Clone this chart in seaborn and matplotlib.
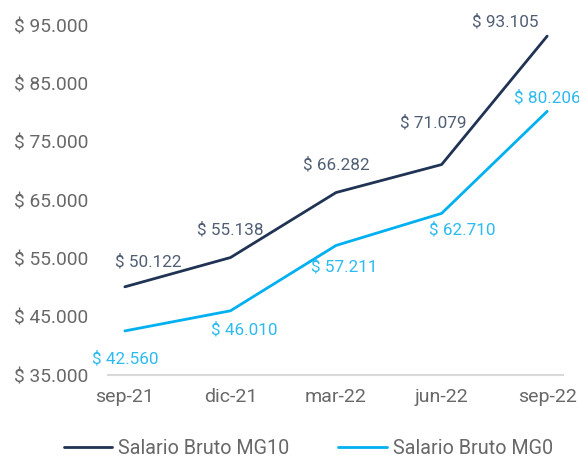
import matplotlib
matplotlib.use('Agg')
from matplotlib import pyplot as plt
from matplotlib.ticker import FuncFormatter
import pandas as pd
import seaborn as sns

# **************************************************************************

periods = ['sep-21', 'dic-21', 'mar-22', 'jun-22', 'sep-22']
mg10 = [50122, 55138, 66282, 71079, 93105]
mg0 = [42560, 46010, 57211, 62710, 80206]
series_names = ['Salario Bruto MG10', 'Salario Bruto MG0']

# label offsets in points (dx, dy)
mg10_offsets = [(17, 18), (0, 20), (0, 20), (-6, 30), (-30, 10)]
mg0_offsets = [(0, -20), (10, -14), (6, -15), (15, -12), (0, 10)]

DARK = '#203354'
LIGHT = '#00B0F0'
GREY = '#686868'


def fmt_money(v):
    return '$ ' + f'{int(round(v)):,}'.replace(',', '.')


def draw_chart():
    sns.set_theme(style='white')
    plt.rcParams['font.family'] = ['Roboto', 'DejaVu Sans']

    df = pd.DataFrame({
        'pos': list(range(len(periods))) * 2,
        'value': mg10 + mg0,
        'serie': [series_names[0]] * len(mg10) + [series_names[1]] * len(mg0),
    })

    fig = plt.figure(figsize=(5.79, 4.57), dpi=100)
    ax = fig.add_axes([0.1865, 0.1794, 0.7859, 0.7658])

    sns.lineplot(data=df, x='pos', y='value', hue='serie',
                 palette={series_names[0]: DARK, series_names[1]: LIGHT},
                 linewidth=2.0, ax=ax)

    # data labels
    for i, v in enumerate(mg10):
        ax.annotate(fmt_money(v), (i, v), xytext=mg10_offsets[i], textcoords='offset points',
                    ha='center', va='center', fontsize=12.3, color='#505E74',
                    annotation_clip=False)
    for i, v in enumerate(mg0):
        ax.annotate(fmt_money(v), (i, v), xytext=mg0_offsets[i], textcoords='offset points',
                    ha='center', va='center', fontsize=12.3, color='#2DBAF0',
                    annotation_clip=False)

    ax.set_xlim(-0.16, 4.15)
    ax.set_ylim(35000, 95000)
    ax.set_yticks(range(35000, 95001, 10000))
    ax.yaxis.set_major_formatter(FuncFormatter(lambda v, p: fmt_money(v)))
    ax.set_xticks(range(len(periods)))
    ax.set_xticklabels(periods)
    ax.set_xlabel('')
    ax.set_ylabel('')

    for s in ['top', 'right', 'left']:
        ax.spines[s].set_visible(False)
    ax.spines['bottom'].set_color('#D9D9D9')
    ax.spines['bottom'].set_linewidth(1.5)
    ax.tick_params(axis='y', length=0, pad=14, labelsize=13.8, labelcolor=GREY)
    ax.tick_params(axis='x', length=0, pad=9, labelsize=14, labelcolor=GREY)

    leg = ax.legend(loc='center', bbox_to_anchor=(0.44, -0.21), ncol=2, frameon=False,
                    fontsize=14.2, handlelength=2.45, columnspacing=2.5, handletextpad=0.3)
    for t in leg.get_texts():
        t.set_color(GREY)

    fig.savefig('out.png', dpi=100)


# **************************************************************************

draw_chart()
